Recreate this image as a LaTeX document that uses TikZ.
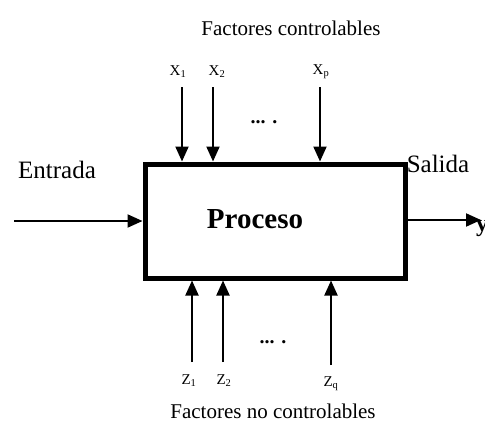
\documentclass[tikz,border=0pt]{standalone}
\usepackage{fontspec}
\setmainfont{Liberation Serif}
\usetikzlibrary{arrows.meta}
\begin{document}
\begin{tikzpicture}[x=1pt,y=-1pt,
  lbl/.style={inner sep=0pt,font=\fontsize{21}{24}\selectfont},
  biglbl/.style={inner sep=0pt,font=\fontsize{25}{28}\selectfont},
  var/.style={inner sep=0pt,font=\fontsize{15}{17}\selectfont},
  arr/.style={line width=2pt,-{Triangle[length=15pt,width=13pt]}},
  dotsl/.style={inner sep=0pt,font=\fontsize{20}{22}\selectfont\bfseries}]
\useasboundingbox (0,0) rectangle (485,439);
\node[draw,line width=5pt,minimum width=260pt,minimum height=114pt,inner sep=0pt] (box) at (275,221) {};
\node[inner sep=0pt,font=\fontsize{29}{32}\selectfont\bfseries] (proc) at (255,219) {Proceso};
\node[lbl] (fc) at (291,28) {Factores controlables};
\node[lbl] (fnc) at (273,411) {Factores no controlables};
\node[biglbl] (ent) at (57,170) {Entrada};
\node[biglbl] (sal) at (438,164) {Salida};
\node[inner sep=0pt,font=\fontsize{24}{26}\selectfont\bfseries,anchor=west] (y) at (476,229) {y};
% top variables
\node[var] (x1) at (178,72) {X\textsubscript{1}};
\node[var] (x2) at (217,72) {X\textsubscript{2}};
\node[var] (xp) at (321,72) {X\textsubscript{p}};
\coordinate (x1s) at (182,87);
\coordinate (x2s) at (213,87);
\coordinate (xps) at (320,87);
\draw[arr] (x1s) -- (x1s |- box.north);
\draw[arr] (x2s) -- (x2s |- box.north);
\draw[arr] (xps) -- (xps |- box.north);
\node[dotsl] (dt) at (264,122) {... .};
% bottom variables
\node[var] (z1) at (189,381) {Z\textsubscript{1}};
\node[var] (z2) at (224,381) {Z\textsubscript{2}};
\node[var] (zq) at (331,384) {Z\textsubscript{q}};
\coordinate (z1s) at (192,362);
\coordinate (z2s) at (223,362);
\coordinate (zqs) at (331,365);
\draw[arr] (z1s) -- (z1s |- box.south);
\draw[arr] (z2s) -- (z2s |- box.south);
\draw[arr] (zqs) -- (zqs |- box.south);
\node[dotsl] (db) at (273,342) {... .};
% input/output
\coordinate (in) at (14,221);
\coordinate (out) at (481,220);
\draw[arr] (in) -- (box.west |- in);
\draw[arr] (box.east |- out) -- (out);
\end{tikzpicture}
\end{document}
